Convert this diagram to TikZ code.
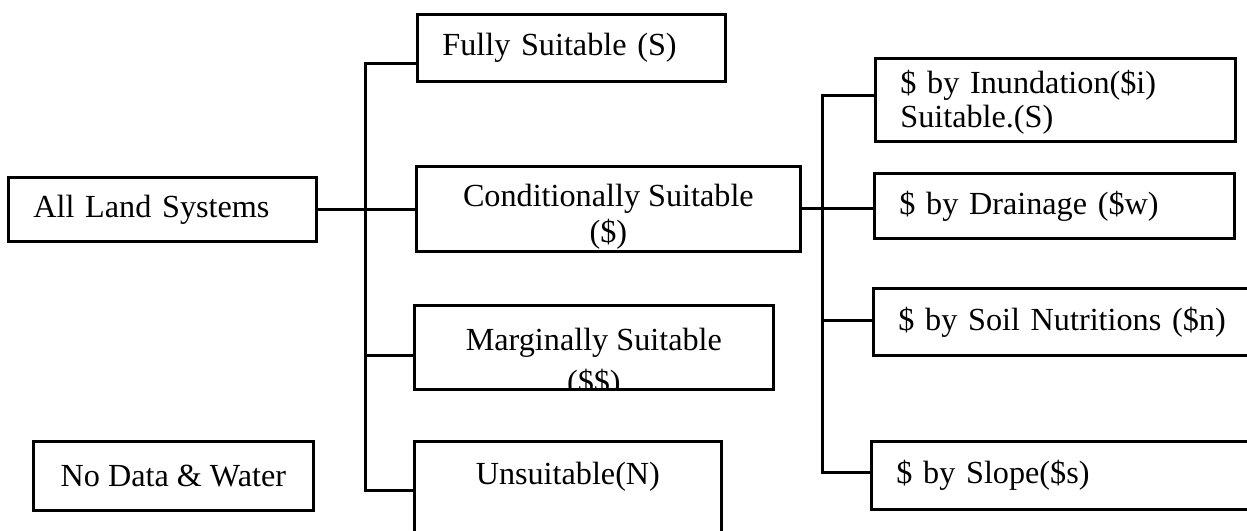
\documentclass[tikz,border=0pt]{standalone}
\usepackage{fontspec}
\setmainfont{Liberation Serif}
\newcommand{\boxfont}{\fontsize{32.2}{34}\selectfont}
\begin{document}
\begin{tikzpicture}[x=1pt,y=-1pt,
  box/.style={draw, line width=2.7pt, inner ysep=0pt, font=\boxfont, anchor=north west},
  lbox/.style={box, align=left, inner xsep=25pt},
  cbox/.style={box, align=center, inner xsep=0pt},
  wire/.style={line width=3pt, line join=miter}]
\clip (0,0) rectangle (1247,530);
\fill[white] (0,0) rectangle (1247,530);
% level 0
\node[lbox, text width=258pt, minimum height=64pt] (all) at (7,176) {All Land Systems};
\node[cbox, minimum width=280pt, minimum height=69pt] (nodata) at (32,440) {No Data \& Water};
% level 1
\node[lbox, text width=258pt, minimum height=67pt] (fully) at (416,13) {Fully Suitable (S)};
\node[cbox, minimum width=384pt, minimum height=85pt] (cond) at (415,165) {\rule{0pt}{38pt}Conditionally Suitable\\[2pt](\$)};
\node[box, minimum width=359pt, minimum height=84pt,
  path picture={\node[draw=none, anchor=center, align=center, font=\boxfont, inner sep=0pt]
    at ([yshift=-16pt]path picture bounding box.center) {Marginally Suitable\\[8pt](\$\$)};}] (marg) at (413,304) {};
\node[box, minimum width=307pt, inner xsep=0pt, text height=43pt, text depth=100pt] (unsuit) at (413,440) {Unsuitable(N)};
% level 2
\node[lbox, text width=310pt, minimum height=83pt] (inund) at (874,57) {\rule{0pt}{28pt}\$ by Inundation(\$i)\\Suitable.(S)};
\node[lbox, text width=310pt, minimum height=65pt] (drain) at (873,172) {\$ by Drainage (\$w)};
\node[lbox, text width=370pt, minimum height=67pt] (soil) at (872,287) {\$ by Soil Nutritions (\$n)};
\node[lbox, text width=370pt, minimum height=68pt] (slope) at (870,440) {\$ by Slope(\$s)};
% trunks
\coordinate (t1a) at (365,63);
\coordinate (t1m) at (365,355);
\coordinate (t1b) at (365,490);
\coordinate (t2a) at (822,95);
\coordinate (t2m) at (822,320);
\coordinate (t2b) at (822,472);
\draw[wire] (t1a -| fully.west) -- (t1a) -- (t1b) -- (t1b -| unsuit.west);
\draw[wire] (all.east) -- (all.east -| cond.west);
\draw[wire] (t1m) -- (t1m -| marg.west);
\draw[wire] (t2a -| inund.west) -- (t2a) -- (t2b) -- (t2b -| slope.west);
\draw[wire] (cond.east) -- (cond.east -| drain.west);
\draw[wire] (t2m) -- (t2m -| soil.west);
\end{tikzpicture}
\end{document}
